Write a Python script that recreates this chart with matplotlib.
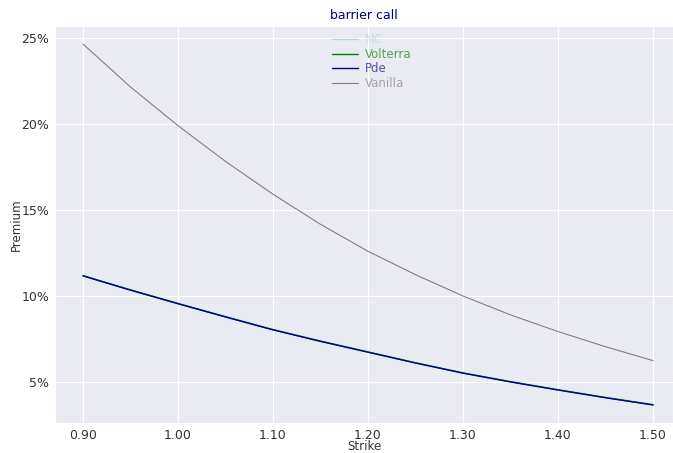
import matplotlib
matplotlib.use('Agg')
import matplotlib.pyplot as plt
from matplotlib.ticker import FuncFormatter
import seaborn as sns

strikes = [0.90, 0.95, 1.00, 1.05, 1.10, 1.15, 1.20, 1.25, 1.30, 1.35, 1.40, 1.45, 1.50]
mc = [0.1119, 0.1036, 0.0957, 0.0880, 0.0805, 0.0738, 0.0675, 0.0612, 0.0553, 0.0502, 0.0455, 0.0410, 0.0368]
volterra = [0.1117, 0.1034, 0.0955, 0.0878, 0.0803, 0.0736, 0.0673, 0.0610, 0.0551, 0.0500, 0.0453, 0.0408, 0.0366]
pde = [0.1116, 0.1033, 0.0954, 0.0877, 0.0802, 0.0735, 0.0672, 0.0609, 0.0550, 0.0499, 0.0452, 0.0407, 0.0365]
vanilla = [0.2465, 0.2215, 0.1990, 0.1782, 0.1591, 0.1416, 0.1259, 0.1123, 0.0999, 0.0889, 0.0792, 0.0704, 0.0623]

series = [('MC', mc, 'lightblue', 1.0),
          ('Volterra', volterra, 'green', 1.0),
          ('Pde', pde, 'darkblue', 1.0),
          ('Vanilla', vanilla, 'grey', 0.8)]

sns.set_style('darkgrid')
plt.rcParams['font.family'] = ['DejaVu Sans']

fig = plt.figure(figsize=(6.73, 4.53), dpi=100)
ax = fig.add_axes([55 / 673, 30 / 453, 618 / 673, 397 / 453])

for name, vals, color, lw in series:
    ax.plot(strikes, vals, color=color, lw=lw, label=name)

ax.set_xlim(0.8705, 1.521)
ax.set_xticks([0.9, 1.0, 1.1, 1.2, 1.3, 1.4, 1.5])
ax.xaxis.set_major_formatter(FuncFormatter(lambda v, p: f'{v:.2f}'))
ax.yaxis.set_major_formatter(FuncFormatter(lambda v, p: f'{v * 100:.0f}%'))
ax.tick_params(labelsize=9, colors='#333333', length=0, pad=4)
ax.set_xlabel('Strike', fontsize=8.5, color='#333333', labelpad=-1)
ax.set_ylabel('Premium', fontsize=8.5, color='#333333', labelpad=-1)
ax.set_title('barrier call', fontsize=9, color='navy', pad=5)

leg = ax.legend(loc='upper center', bbox_to_anchor=(0.5 + 8 / 618, 1.005),
                frameon=False, fontsize=8.5,
                handlelength=2.2, handletextpad=0.6, labelspacing=0.12,
                borderaxespad=0.4)
for text, (name, vals, color, lw) in zip(leg.get_texts(), series):
    text.set_color(color)
    text.set_alpha(0.65)

fig.savefig('out.png', dpi=100)
